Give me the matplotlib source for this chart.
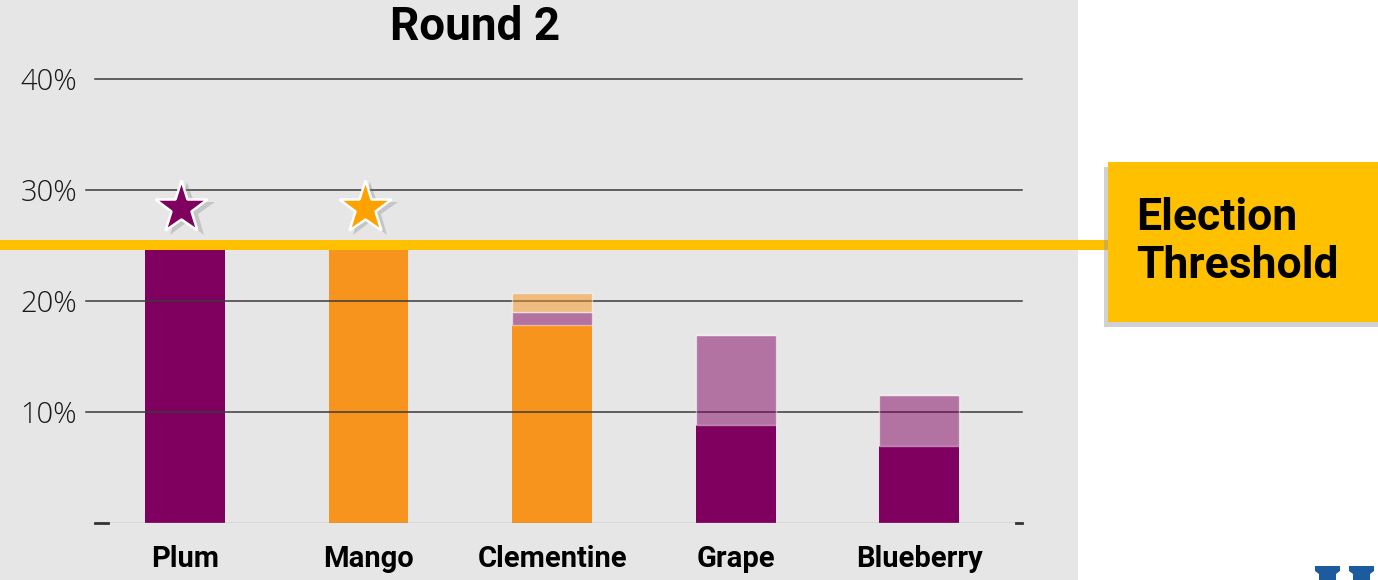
import matplotlib.pyplot as plt
from matplotlib.patches import Rectangle, Polygon
import numpy as np

categories = ["Plum", "Mango", "Clementine", "Grape", "Blueberry"]
plum_votes = [25.0, 0.0, 0.0, 8.8, 6.9]
mango_votes = [0.0, 25.0, 17.8, 0.0, 0.0]
plum_transfer = [0.0, 0.0, 1.2, 8.1, 4.6]
mango_transfer = [0.0, 0.0, 1.7, 0.0, 0.0]
elected = ["Plum", "Mango"]
threshold = 25.0
y_ticks = [10, 20, 30, 40]

PURPLE = "#7F005F"
ORANGE = "#F7941E"
STAR_ORANGE = "#FFA200"
YELLOW = "#FFC000"
PANEL = "#E6E6E6"
LOGO = "#1B5B9E"
W, H = 1378, 580

fig = plt.figure(figsize=(W / 100, H / 100), dpi=100)
fig.patch.set_facecolor("white")

# gray panel behind the chart
fig.add_artist(Rectangle((0, 0), 1078 / W, 1, transform=fig.transFigure,
                         facecolor=PANEL, edgecolor="none", zorder=0))

ax = fig.add_axes([95 / W, 1 - 523 / H, (1022 - 95) / W, (523 - 79) / H])
ax.set_facecolor("none")
for s in ax.spines.values():
    s.set_visible(False)

x = np.arange(len(categories))
width = 0.435
bottom = np.zeros(len(categories))
for vals, color, alpha in [(plum_votes, PURPLE, 1.0), (mango_votes, ORANGE, 1.0),
                           (plum_transfer, PURPLE, 0.5), (mango_transfer, ORANGE, 0.5)]:
    vals = np.array(vals)
    ec = (1, 1, 1, 0.35) if alpha < 1 else "none"
    ax.bar(x, vals, width, bottom=bottom, color=color, alpha=alpha,
           edgecolor=ec, linewidth=1, zorder=3 if alpha == 1 else 5)
    bottom += vals

for t in y_ticks:
    ax.axhline(t, color="#3A3A3A", linewidth=1.1, zorder=4,
               xmin=0 if t == 40 else -0.01, clip_on=False)
ax.axhline(0, color="#9A9A9A", linewidth=1.0, zorder=4)
ax.plot([0, 0.014], [0, 0], transform=ax.transAxes, color="#333333", lw=2, clip_on=False, zorder=6)
ax.plot([0.993, 1.0], [0, 0], transform=ax.transAxes, color="#333333", lw=2, clip_on=False, zorder=6)

# threshold line
ax.axhline(threshold, xmin=(5 - 95) / 927, xmax=(1108 - 95) / 927,
           color=YELLOW, linewidth=7.2, clip_on=False, zorder=6)

# stars for elected candidates
for name in elected:
    i = categories.index(name)
    c = PURPLE if plum_votes[i] > 0 else STAR_ORANGE
    ax.plot(x[i] - 0.02 + 0.03, 28.15, marker="*", markersize=42, color="#7a7a7a",
            alpha=0.3, markeredgewidth=0, clip_on=False, zorder=6)
    ax.plot(x[i] - 0.02, 28.4, marker="*", markersize=40, color=c,
            markeredgecolor="white", markeredgewidth=1.8, clip_on=False, zorder=7)

ax.set_xlim(-0.49, 4.56)
ax.set_ylim(0, 40)
ax.set_yticks(y_ticks)
ax.set_yticklabels([f"{t}%" for t in y_ticks], fontsize=21, family="Open Sans",
                   fontweight="light", color="#1a1a1a")
ax.set_xticks(x)
ax.set_xticklabels(categories, fontsize=21, family="Roboto", fontweight="bold")
ax.tick_params(axis="y", length=0, pad=13)
ax.tick_params(axis="x", length=0, pad=16)

fig.text(475 / W, 1 - 27 / H, "Round 2", ha="center", va="center",
         fontsize=33, family="Roboto", fontweight="bold")

# threshold callout box with shadow
fig.add_artist(Rectangle((1104 / W, 1 - 327 / H), 300 / W, 160 / H, transform=fig.transFigure,
                         facecolor="#999999", alpha=0.45, edgecolor="none", zorder=7))
fig.add_artist(Rectangle((1108 / W, 1 - 322 / H), 300 / W, 160 / H, transform=fig.transFigure,
                         facecolor=YELLOW, edgecolor="none", zorder=8))
fig.text(1136 / W, 1 - 242 / H, "Election\nThreshold", ha="left", va="center",
         fontsize=32, family="Roboto", fontweight="bold", linespacing=1.18, zorder=9)

# partial logo at bottom right (tops of two serif letters)
for x0 in (1315, 1349):
    pts = [(x0, 566), (x0 + 25, 566), (x0 + 25, 571), (x0 + 21, 574), (x0 + 21, 581),
           (x0 + 4, 581), (x0 + 4, 574), (x0, 571)]
    fig.add_artist(Polygon([(px / W, 1 - py / H) for px, py in pts], closed=True,
                           transform=fig.transFigure, facecolor=LOGO,
                           edgecolor="none", zorder=9))

fig.savefig("out.png", dpi=100)
